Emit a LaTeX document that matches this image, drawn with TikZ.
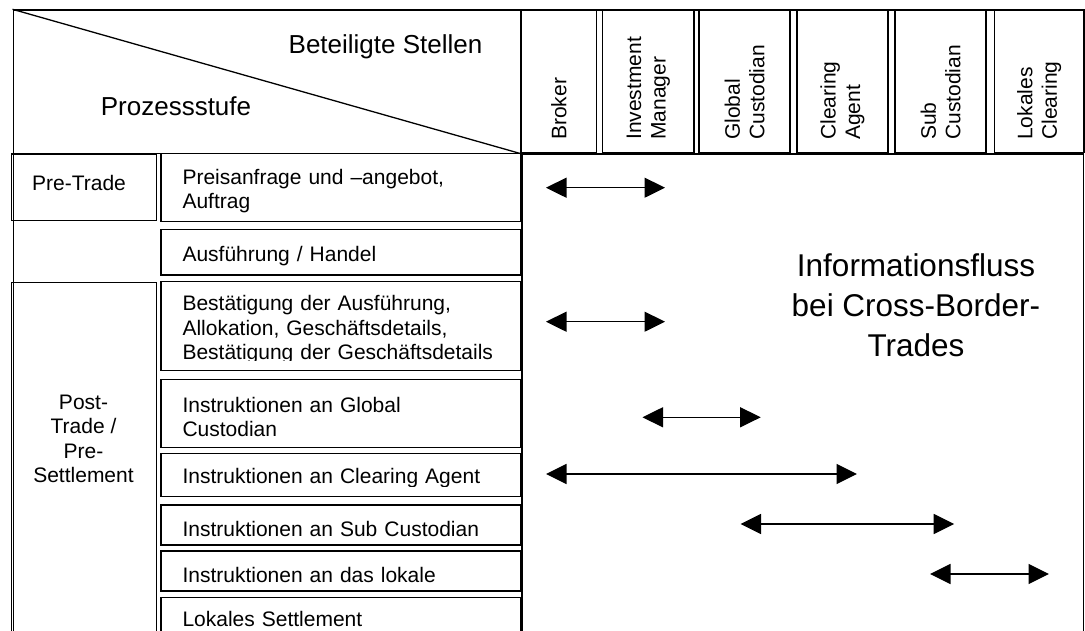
\documentclass[tikz,border=0pt]{standalone}
\usepackage{fontspec}
\setmainfont{Liberation Sans}
\usepackage{tikz}
\usetikzlibrary{shapes}
\usetikzlibrary{arrows.meta}
\usetikzlibrary{positioning}

\begin{document}
\begin{tikzpicture} [
            x = 1pt, y = -1pt,
            line width = 1.3pt,
            % ----- Node definitions ----- %
            phasenode/.style = {
                draw,
                rectangle,
                anchor = north west,
                minimum width = 145.5pt,
                minimum height = #1,
                inner xsep = 21pt,
                inner ysep = 0pt,
                text width = 103.5pt,
                align = left,
                execute at begin node = {\rule[-8pt]{0pt}{8pt}},
                font = \fontsize{21}{24.5}\selectfont
            },
            tasknode/.style = {
                draw,
                rectangle,
                anchor = north west,
                minimum height = #1,
                inner xsep = 21.5pt,
                inner ysep = 0pt,
                outer sep = 0pt,
                text width = 316.7pt,
                align = left,
                execute at begin node = {\rule{0pt}{22.3pt}},
                font = \fontsize{21}{24.5}\selectfont
            },
            partynode/.style = {
                draw,
                rectangle,
                rotate = 90,
                minimum width = 143.4pt,
                minimum height = #1,
                inner xsep = 13pt,
                inner ysep = 0pt,
                text width = 117.4pt,
                align = left,
                font = \fontsize{21}{24.5}\selectfont
            },
            headnode/.style = {
                font = \fontsize{26}{30}\selectfont
            },
            bignode/.style = {
                align = center,
                font = \fontsize{31.5}{39.8}\selectfont
            },
            flowarrow/.style = {
                arrows = {Triangle[length=20.5pt, width=20pt]-Triangle[length=20.5pt, width=20pt]},
                line width = 1.3pt
            },
    ]
    \useasboundingbox (0,0) rectangle (1085,631);
    \clip (0,0) rectangle (1085,631);

            % ----- Frame and header ----- %
        \node [draw, rectangle, anchor=north west, minimum width=1070pt, minimum height=640pt, inner sep=0pt] (frame) at (12.5,9.3) {};
        \node [draw, rectangle, anchor=north west, minimum width=508.2pt, minimum height=143.4pt, inner sep=0pt] (corner) at (12.5,9.3) {};
        \draw (corner.north west) -- (corner.south east);
        \draw (corner.south east) -- (corner.south east |- frame.south);
        \draw (corner.south east) -- (corner.south east -| frame.east);
        \node [headnode] (stellen) at (385.5,47) {Beteiligte Stellen};
        \node [headnode] (stufe) at (176,106) {Prozessstufe};

            % ----- Beteiligte Stellen ----- %
        \node [partynode=75.7pt] (broker) at (558.85,81) {Broker};
        \node [partynode=91.3pt] (invest) at (648.35,81) {Investment\\Manager};
        \node [partynode=91pt] (global) at (744.5,81) {Global\\Custodian};
        \node [partynode=91pt] (clearing) at (842.5,81) {Clearing\\Agent};
        \node [partynode=91pt] (subcust) at (940.5,81) {Sub\\Custodian};
        \node [partynode=89.7pt] (lokclear) at (1039.15,81) {Lokales\\Clearing};

            % ----- Prozessstufen ----- %
        \node [phasenode=66.7pt] (pretrade) at (10.5,153.3) {Pre-Trade};
        \node [draw, rectangle, anchor=north west, minimum width=145.5pt, minimum height=380pt, inner sep=0pt] (posttrade) at (10.5,281.7) {};
        \node [align=center, font=\fontsize{21}{24.5}\selectfont] (posttext) at (83.5,439) {Post-\\Trade /\\Pre-\\Settlement};

        \node [tasknode=68.4pt] (anfrage) at (161,153.3) {Preisanfrage und --angebot,\\Auftrag};
        \node [tasknode=45.7pt, below=7.6pt of anfrage] (handel) {Ausführung / Handel};
        \node [tasknode=89pt, below=6.7pt of handel] (bestaet) {Bestätigung der Ausführung,\\Allokation, Geschäftsdetails,\\Bestätigung der Geschäftsdetails};
        \node [tasknode=68pt, below=8.6pt of bestaet] (instgc) {Instruktionen an Global\\Custodian};
        \node [tasknode=43.4pt, below=6pt of instgc] (instca) {Instruktionen an Clearing Agent};
        \node [tasknode=40pt, below=8.3pt of instca] (instsc) {Instruktionen an Sub Custodian};
        \node [tasknode=40pt, below=6pt of instsc] (instlok) {Instruktionen an das lokale};
        \node [tasknode=36pt, below=6.7pt of instlok] (lokset) {Lokales Settlement};

        % text frames cut the last line
        \fill [white] ([xshift=1pt, yshift=1pt] bestaet.south west) rectangle ([xshift=-1pt, yshift=10pt] bestaet.south east);
        \fill [white] ([xshift=1pt, yshift=1pt] instca.south west) rectangle ([xshift=-1pt, yshift=10pt] instca.south east);

            % ----- Informationsfluss ----- %
        \coordinate (anfrageL) at (546,187.7);
        \coordinate (anfrageR) at (665,187.7);
        \coordinate (bestaetL) at (546,321.7);
        \coordinate (bestaetR) at (665,321.7);
        \coordinate (instgcL) at (642.5,417.3);
        \coordinate (instgcR) at (760.7,417.3);
        \coordinate (instcaL) at (546,474);
        \coordinate (instcaR) at (857,474);
        \coordinate (instscL) at (740.5,524);
        \coordinate (instscR) at (954.2,524);
        \coordinate (instlokL) at (930,574);
        \coordinate (instlokR) at (1049,574);

        \draw [flowarrow] (anfrageL) -- (anfrageR);
        \draw [flowarrow] (bestaetL) -- (bestaetR);
        \draw [flowarrow] (instgcL) -- (instgcR);
        \draw [flowarrow] (instcaL) -- (instcaR);
        \draw [flowarrow] (instscL) -- (instscR);
        \draw [flowarrow] (instlokL) -- (instlokR);

        \node [bignode] (infofluss) at (916,305) {Informationsfluss\\bei Cross-Border-\\Trades};

\end{tikzpicture}
\end{document}
